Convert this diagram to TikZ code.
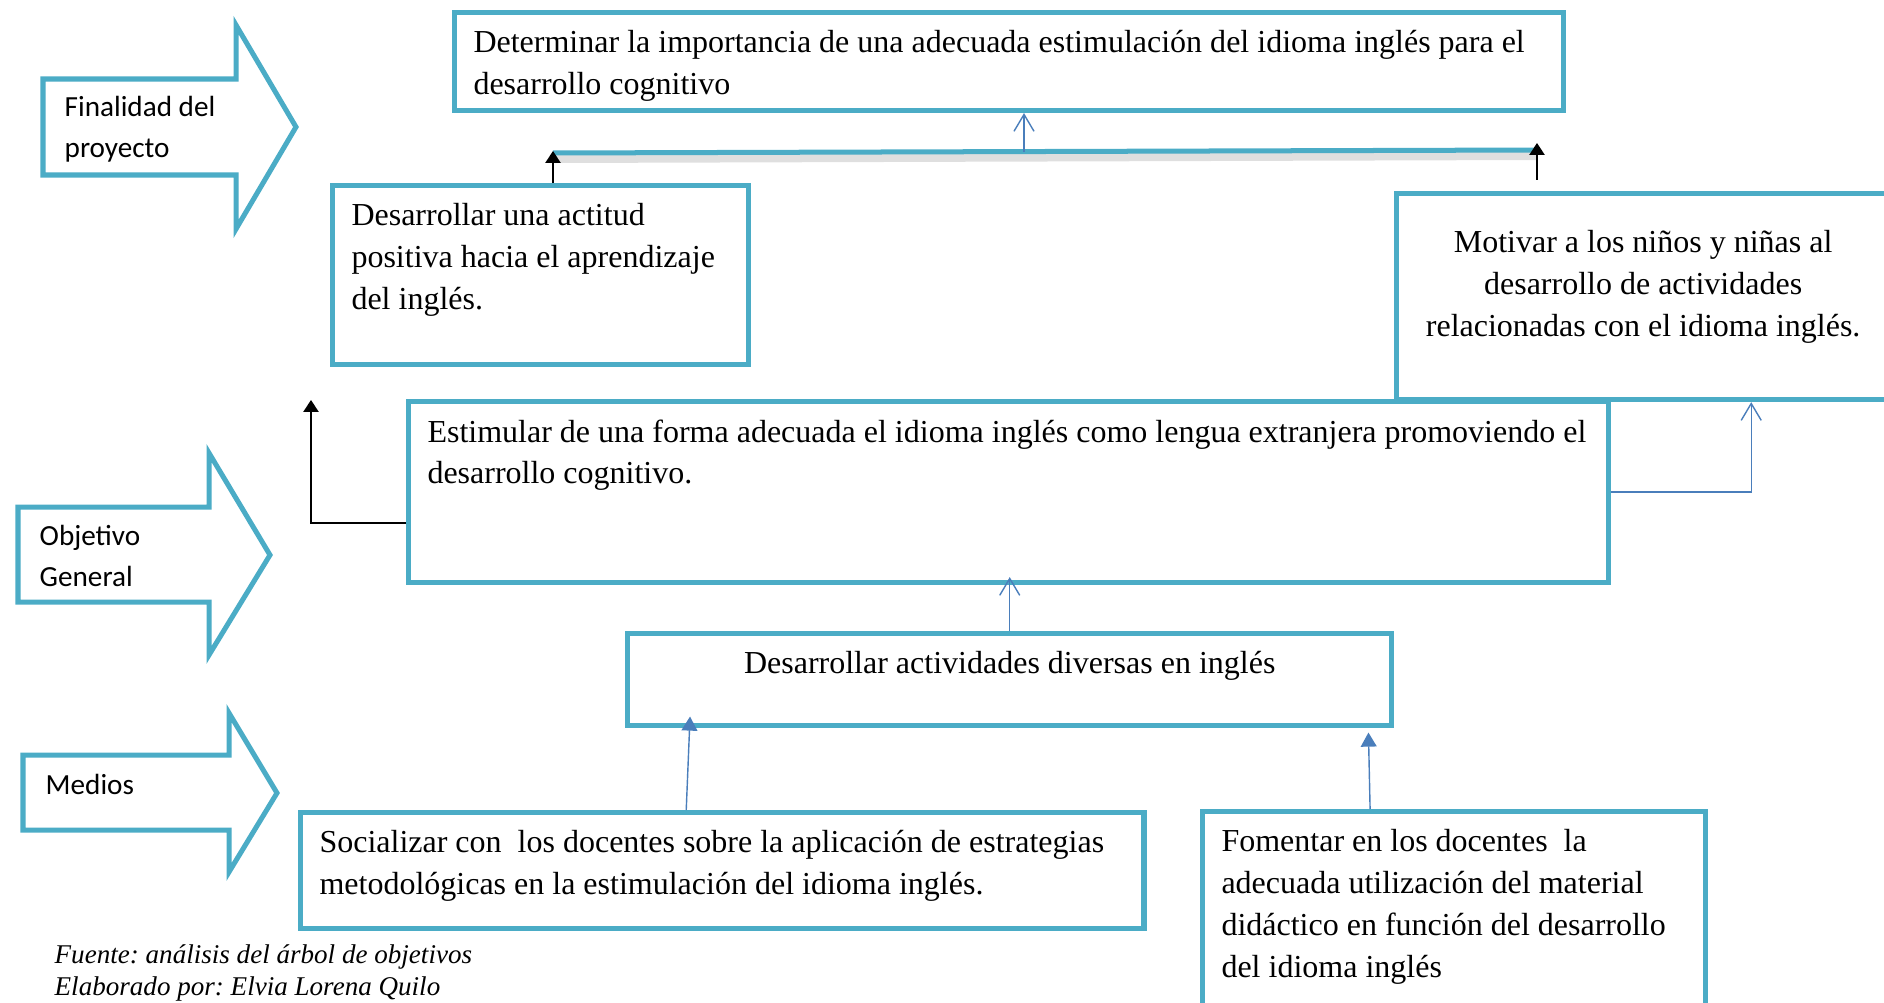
\documentclass[tikz,border=0pt]{standalone}
\usepackage{fontspec}
\setmainfont{Liberation Serif}
\newfontfamily\calibri{Carlito}
\frenchspacing
\usetikzlibrary{arrows.meta}
\definecolor{boxblue}{RGB}{75,172,198}
\definecolor{linkblue}{RGB}{74,126,187}
\newcommand{\boxtxt}[4][\raggedright]{\parbox[c][#3][t]{#2}{#1#4}}
\tikzset{goal box/.style={draw=boxblue, line width=0.05cm, fill=white, anchor=north west,
    inner xsep=0.19cm, inner ysep=0.18cm, font=\fontsize{9.1}{11.9}\selectfont},
  side arrow/.style={draw=boxblue, line width=0.05cm, fill=white},
  side label/.style={font=\calibri\fontsize{8.3}{11.6}\selectfont, align=left, anchor=base west, inner sep=0pt},
  black link/.style={line width=0.6pt, -{Triangle[length=3.4pt,width=4.3pt]}},
  open link/.style={draw=linkblue, line width=0.4pt, -{Straight Barb[length=4.8pt,width=5.7pt]}},
  fill link/.style={draw=linkblue, line width=0.4pt, -{Triangle[length=4pt,width=4.5pt]}, linkblue},
}

\begin{document}
\begin{tikzpicture}[x=0.01cm, y=-0.01cm]
   \useasboundingbox (0,0) rectangle (1884,1003);

   % flechas de la izquierda
   \draw[side arrow] (43,79) -- (236,79) -- (236,25) -- (296,127) -- (236,229) -- (236,175) -- (43,175) -- cycle;
   \draw[side arrow] (18,507) -- (209,507) -- (209,453) -- (270,555) -- (209,655) -- (209,602) -- (18,602) -- cycle;
   \draw[side arrow] (23,755) -- (229,755) -- (229,713) -- (277,793) -- (229,872) -- (229,830) -- (23,830) -- cycle;
   \node[side label] (lfin) at (64,157) {Finalidad del\\proyecto};
   \node[side label] (lgen) at (39,586) {Objetivo\\General};
   \node[side label] (lmed) at (45,794) {Medios};

   % cajas
   \node[goal box] (fin) at (452,10) {\boxtxt{10.70cm}{0.62cm}{\mbox{Determinar la importancia de una adecuada estimulación del idioma inglés para el}\\desarrollo cognitivo}};
   \node[goal box] (act) at (330,183) {\boxtxt{3.78cm}{1.43cm}{Desarrollar una actitud\\positiva hacia el aprendizaje\\del inglés.}};
   \node[goal box] (mot) at (1394,191) {\boxtxt[\centering\vspace*{0.19cm}]{4.55cm}{1.70cm}{Motivar a los niños y niñas al\\desarrollo de actividades\\relacionadas con el idioma inglés.}};
   \node[goal box] (gen) at (406,399) {\boxtxt{11.61cm}{1.45cm}{\mbox{Estimular de una forma adecuada el idioma inglés como lengua extranjera promoviendo el}\\desarrollo cognitivo.}};
   \node[goal box] (div) at (625,631) {\boxtxt[\centering]{7.26cm}{0.56cm}{Desarrollar actividades diversas en inglés}};
   \node[goal box] (soc) at (298,810) {\boxtxt{8.05cm}{0.80cm}{Socializar con\ \ los docentes sobre la aplicación de estrategias\\metodológicas en la estimulación del idioma inglés.}};
   \node[goal box] (fom) at (1200,809) {\boxtxt{4.65cm}{1.63cm}{Fomentar en los docentes\ \ la\\adecuada utilización del material\\didáctico en función del desarrollo\\del idioma inglés}};

   % linea de union superior
   \coordinate (jl) at (553,153);
   \coordinate (jr) at (1537,150);
   \coordinate (jm) at (1024,151.5);
   \draw[gray!25, line width=0.08cm] (555,159) -- (1537,156);
   \draw[boxblue, line width=0.05cm] (jl) -- (jr);

   \draw[black link, shorten >=-0.02cm] (act.north -| jl) -- (jl);
   \draw[black link, shorten <=0.11cm, shorten >=-0.07cm] (mot.north -| jr) -- (jr);
   \draw[open link] (jm) -- (jm |- fin.south);

   \coordinate (up) at (311,400);
   \draw[black link] ([yshift=-0.31cm]gen.west) -| (up);
   \draw[open link] (gen.east) -| ([xshift=1.08cm]mot.south);
   \draw[open link, shorten >=-0.08cm] (div.north) -- (div.north |- gen.south);
   \draw[fill link] ([xshift=-0.36cm]soc.north) -- ([xshift=-3.195cm, yshift=0.115cm]div.south);
   \draw[fill link] ([xshift=-0.84cm]fom.north) -- ([xshift=3.585cm, yshift=-0.045cm]div.south);

   % fuente
   \node[font=\itshape\fontsize{7.7}{9.1}\selectfont, align=left, anchor=base west, inner sep=0pt] (src) at (54,995)
     {Fuente: análisis del árbol de objetivos\\Elaborado por: Elvia Lorena Quilo};
\end{tikzpicture}
\end{document}
